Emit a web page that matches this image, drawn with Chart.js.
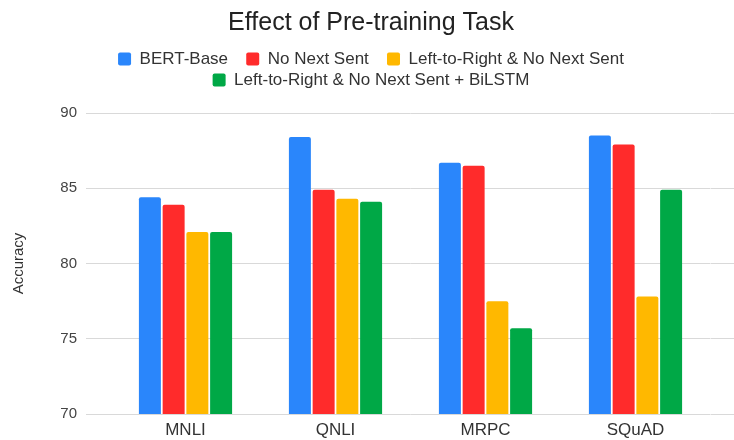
<!DOCTYPE html>
<html>
<head>
<meta charset="utf-8">
<title>Effect of Pre-training Task</title>
<script src="https://cdn.jsdelivr.net/npm/chart.js@4.4.1/dist/chart.umd.min.js"></script>
<style>
  html, body { margin: 0; padding: 0; background: #fff; }
  #wrap { width: 734px; height: 440px; position: relative; }
</style>
</head>
<body>
<div id="wrap"><canvas id="taskChart"></canvas></div>
<script>
// GLUE / SQuAD dev accuracy for each ablation
const tasks = ['MNLI', 'QNLI', 'MRPC', 'SQuAD'];
const seriesNames = [
    'BERT-Base',
    'No Next Sent',
    'Left-to-Right & No Next Sent',
    'Left-to-Right & No Next Sent + BiLSTM'
];
const bertBase = [84.4, 88.4, 86.7, 88.5];
const noNextSent = [83.9, 84.9, 86.5, 87.9];
const leftToRight = [82.1, 84.3, 77.5, 77.8];
const ltrBiLSTM = [82.1, 84.1, 75.7, 84.9];
const yTicks = [70, 75, 80, 85, 90];

const colors = ['#2a86fb', '#ff2b2b', '#ffb800', '#00a846'];
const fontFamily = '"Liberation Sans", Arial, sans-serif';
const gridColor = '#d9d9d9';

// extra room between the legend and the plot
const legendGap = {
    id: 'legendGap',
    beforeInit(chart) {
        const origFit = chart.legend.fit;
        chart.legend.fit = function () {
            origFit.call(this);
            this.height += 14.5;
        };
    }
};

const values = [bertBase, noNextSent, leftToRight, ltrBiLSTM];

const ctx = document.getElementById('taskChart').getContext('2d');
new Chart(ctx, {
    type: 'bar',
    data: {
        labels: tasks,
        datasets: values.map((data, i) => ({
            label: seriesNames[i],
            data: data,
            backgroundColor: colors[i],
            borderRadius: 2,
            categoryPercentage: 0.633,
            barPercentage: 0.926
        }))
    },
    options: {
        responsive: true,
        maintainAspectRatio: false,
        animation: false,
        layout: { padding: { left: 8, right: 0, top: 0, bottom: 0 } },
        plugins: {
            title: {
                display: true,
                text: 'Effect of Pre-training Task',
                color: '#222',
                font: { family: fontFamily, size: 25, weight: 'normal' },
                padding: { top: 8, bottom: 8.5 }
            },
            legend: {
                position: 'top',
                labels: {
                    color: '#333',
                    font: { family: fontFamily, size: 17 },
                    boxWidth: 13,
                    boxHeight: 13,
                    useBorderRadius: true,
                    borderRadius: 2,
                    padding: 4,
                    generateLabels(chart) {
                        const items = Chart.defaults.plugins.legend.labels.generateLabels(chart);
                        // spacing after the first-row entries
                        items.forEach((item, i) => {
                            if (i < 2) item.text += '   ';
                        });
                        return items;
                    }
                }
            },
            tooltip: { enabled: true }
        },
        scales: {
            x: {
                grid: { display: false, drawTicks: false },
                border: { display: false },
                ticks: {
                    color: '#333',
                    font: { family: fontFamily, size: 17 },
                    padding: 6
                },
                afterFit(scale) { scale.height = 26; }
            },
            y: {
                position: 'left',
                min: yTicks[0],
                max: yTicks[yTicks.length - 1],
                grid: { color: gridColor, tickLength: 24.5, drawTicks: true },
                border: { display: false },
                ticks: {
                    stepSize: 5,
                    color: '#444',
                    font: { family: fontFamily, size: 15 },
                    padding: 9
                },
                title: {
                    display: true,
                    text: 'Accuracy',
                    color: '#333',
                    font: { family: fontFamily, size: 15 },
                    padding: { top: 2, bottom: 0 }
                },
                afterFit(scale) { scale.width = 102.5; }
            },
            yRight: {
                position: 'right',
                min: yTicks[0],
                max: yTicks[yTicks.length - 1],
                grid: { color: gridColor, tickLength: 23.5, drawOnChartArea: false },
                border: { display: false },
                ticks: { stepSize: 5, display: false }
            }
        }
    },
    plugins: [legendGap]
});
</script>
</body>
</html>
